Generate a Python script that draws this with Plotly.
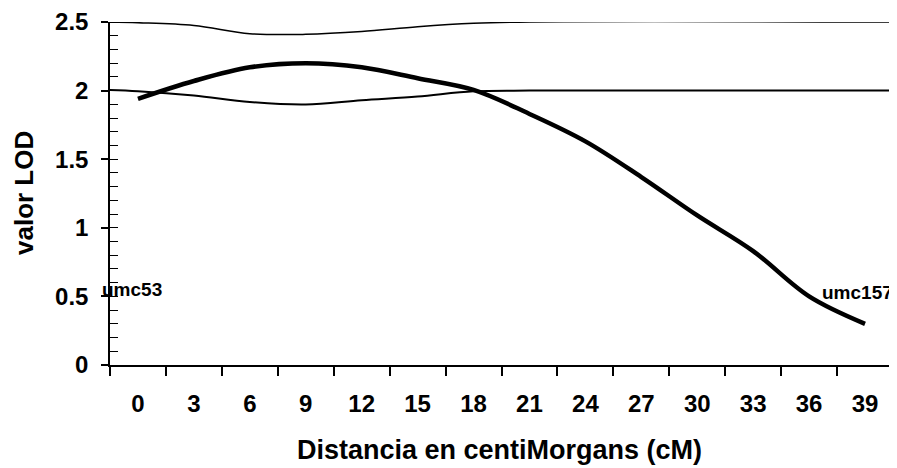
import plotly.graph_objects as go

# Distancia (cM) y valor LOD
cM = [0, 3, 6, 9, 12, 15, 18, 21, 24, 27, 30, 33, 36, 39]
lod = [1.94, 2.07, 2.17, 2.20, 2.17, 2.09, 2.005, 1.83, 1.63, 1.37, 1.09, 0.83, 0.50, 0.30]

# Umbral LOD y borde superior (tal como aparecen, ondulados por el escaneo)
linea_x = [-1.5, 0, 3, 6, 9, 12, 15, 18, 21, 40.5]
umbral = [2.005, 1.996, 1.964, 1.917, 1.899, 1.93, 1.957, 1.995, 2.0, 2.0]
borde = [2.5, 2.495, 2.475, 2.415, 2.41, 2.43, 2.465, 2.49, 2.5, 2.5]

y_ticks = [0, 0.5, 1, 1.5, 2, 2.5]
y_text = ["0", "0.5", "1", "1.5", "2", "2.5"]
x_limites = [-1.5 + 3 * k for k in range(15)]

marcadores = ["umc53", "umc157"]
marc_x = [-2.04, 36.59]
marc_y = [0.55, 0.53]

FONT = "Liberation Sans, Arial, sans-serif"
X0, X1 = -1.5, 40.5
PLOT_H = 343

fig = go.Figure()
fig.add_trace(go.Scatter(x=linea_x, y=borde, mode="lines",
                         line=dict(color="black", width=1.5, shape="spline"),
                         hoverinfo="skip", showlegend=False, cliponaxis=False))
fig.add_trace(go.Scatter(x=linea_x, y=umbral, mode="lines",
                         line=dict(color="black", width=2, shape="spline"),
                         hoverinfo="skip", showlegend=False))
fig.add_trace(go.Scatter(x=cM, y=lod, mode="lines",
                         line=dict(color="black", width=4.5, shape="spline"),
                         showlegend=False))

# the page body adds an 8px offset; compensate so the plot area sits at 110..893 x 22..365
fig.update_layout(
    width=889, height=460,
    margin=dict(l=102, r=4, t=14, b=103, autoexpand=False),
    paper_bgcolor="white", plot_bgcolor="white",
    font=dict(family=FONT, color="black"),
    xaxis=dict(range=[X0, X1], tickmode="array", tickvals=cM,
               ticktext=[str(v) for v in cM], ticks="", automargin=False,
               ticklabelstandoff=16, ticklabeloverflow="allow",
               tickfont=dict(size=24, family=FONT, color="black", weight="bold"),
               showline=True, linecolor="black", linewidth=1.5,
               showgrid=False, zeroline=False,
               minor=dict(tickmode="array", tickvals=x_limites, ticks="outside",
                          ticklen=9, tickwidth=1.5, tickcolor="black")),
    yaxis=dict(range=[0, 2.5], tickmode="array", tickvals=y_ticks, ticktext=y_text,
               ticks="outside", ticklen=7, tickwidth=1.5, tickcolor="black",
               ticklabelstandoff=8, automargin=False, ticklabeloverflow="allow",
               tickfont=dict(size=24, family=FONT, color="black", weight="bold"),
               showline=True, mirror=True, linecolor="black", linewidth=1.5,
               showgrid=False, zeroline=False,
               minor=dict(tick0=0, dtick=0.1, ticks="inside", ticklen=8,
                          tickwidth=1.2, tickcolor="black")),
)

fig.add_annotation(text="valor LOD", textangle=-90, xref="paper", yref="paper",
                   x=(24 - 110) / 783, y=(365 - 193) / PLOT_H, xanchor="center",
                   yanchor="middle", showarrow=False,
                   font=dict(size=26, family=FONT, weight="bold"))
fig.add_annotation(text="Distancia en centiMorgans (cM)", xref="paper", yref="paper",
                   x=(499 - 110) / 783, y=(365 - 450) / PLOT_H, xanchor="center",
                   yanchor="middle", showarrow=False,
                   font=dict(size=27, family=FONT, weight="bold"))
for t, xx, yy in zip(marcadores, marc_x, marc_y):
    fig.add_annotation(text=t, x=(xx - X0) / (X1 - X0), y=yy, xref="paper", yref="y",
                       xanchor="left", yanchor="middle", showarrow=False,
                       font=dict(size=19, family=FONT, weight="bold"))

fig.write_html("out.html")
